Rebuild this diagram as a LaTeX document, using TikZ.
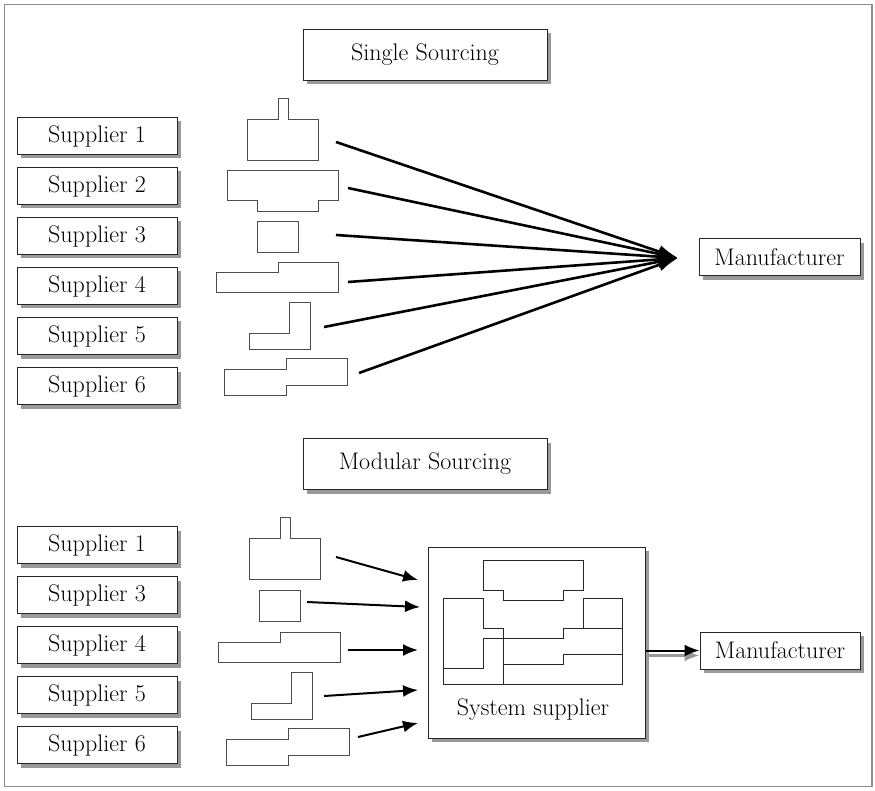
\documentclass[tikz,border=0pt]{standalone}
\usepackage{tikz}
\usetikzlibrary{arrows.meta}
\usetikzlibrary{positioning}
\usetikzlibrary{shadows}

\tikzset{
	part/.style={draw=black!70, line width=0.9pt},
	pics/peg part/.style={code={
		\draw[part] (0,62) -- (0,21) -- (31,21) -- (31,0) -- (41,0) -- (41,21) -- (71,21) -- (71,62) -- cycle;}},
	pics/notch part/.style={code={
		\draw[part] (0,0) -- (111,0) -- (111,30) -- (91,30) -- (91,41) -- (30,41) -- (30,30) -- (0,30) -- cycle;}},
	pics/block part/.style={code={
		\draw[part] (0,0) rectangle (41,31);}},
	pics/step part/.style={code={
		\draw[part] (0,10) -- (62,10) -- (62,0) -- (122,0) -- (122,30) -- (0,30) -- cycle;}},
	pics/ell part/.style={code={
		\draw[part] (0,31) -- (40,31) -- (40,0) -- (61,0) -- (61,47) -- (0,47) -- cycle;}},
	pics/zed part/.style={code={
		\draw[part] (0,11) -- (62,11) -- (62,0) -- (123,0) -- (123,27) -- (62,27) -- (62,37) -- (0,37) -- cycle;}}
}

\begin{document}
\begin{tikzpicture}[
		x=1pt,
		y=-1pt,
		font=\fontsize{24}{28}\selectfont,
		box/.style={
			draw=black!85,
			fill=white,
			line width=1pt,
			inner sep=0pt,
			drop shadow={shadow xshift=4pt, shadow yshift=-4pt, fill=black!40, opacity=1}
		},
		supplier node/.style={box, minimum width=160pt, minimum height=37pt},
		title node/.style={box, minimum width=244pt, minimum height=51pt},
		feed/.style={-{Latex[length=20pt,width=13pt]}, line width=2.6pt},
		deliver/.style={-{Latex[length=15pt,width=12pt]}, line width=2pt}
		]
		
		\useasboundingbox (0,0) rectangle (875,791);
		\draw[black!45, line width=1.5pt] (4.5,4.5) rectangle (872,786.5);
		
		% single sourcing
		\node[title node] (single) at (425,55) {Single Sourcing};
		\node[supplier node] (s1) at (97,136) {Supplier 1};
		\node[supplier node] (s2) [below=12pt of s1] {Supplier 2};
		\node[supplier node] (s3) [below=12pt of s2] {Supplier 3};
		\node[supplier node] (s4) [below=12pt of s3] {Supplier 4};
		\node[supplier node] (s5) [below=12pt of s4] {Supplier 5};
		\node[supplier node] (s6) [below=12pt of s5] {Supplier 6};
		\node[box, minimum width=161pt, minimum height=37pt] (man1) at (779.5,257.5) {Manufacturer};
		
		\pic at (247,98) {peg part};
		\pic at (227,170) {notch part};
		\pic at (257,221) {block part};
		\pic at (216,262) {step part};
		\pic at (249,302) {ell part};
		\pic at (224,358) {zed part};
		
		\coordinate (hub) at (678,258);
		\coordinate (a1) at (336,142);
		\coordinate (a2) at (348,188);
		\coordinate (a3) at (336,235);
		\coordinate (a4) at (348,282);
		\coordinate (a5) at (324,327);
		\coordinate (a6) at (359,373);
		\foreach \i in {1,...,6}
			\draw[feed] (a\i) -- (hub);
		
		% modular sourcing
		\node[title node] (modular) at (425,464) {Modular Sourcing};
		\node[supplier node] (m1) at (97,545) {Supplier 1};
		\node[supplier node] (m3) [below=12pt of m1] {Supplier 3};
		\node[supplier node] (m4) [below=12pt of m3] {Supplier 4};
		\node[supplier node] (m5) [below=12pt of m4] {Supplier 5};
		\node[supplier node] (m6) [below=12pt of m5] {Supplier 6};
		\node[box, minimum width=217pt, minimum height=191pt] (sys) at (536.5,642.5) {};
		\node (syslabel) at (533,710) {System supplier};
		\node[box, minimum width=160pt, minimum height=37pt] (man2) at (780,650.5) {Manufacturer};
		
		\pic at (249,517) {peg part};
		\pic at (259,590) {block part};
		\pic at (218,632) {step part};
		\pic at (251,672) {ell part};
		\pic at (226,728) {zed part};
		
		% parts put together
		\draw[part, draw=black!85] (483,560) -- (583,560) -- (583,590) -- (563,590) -- (563,600) -- (503,600) -- (503,590) -- (483,590) -- cycle;
		\draw[part, draw=black!85] (443,598) -- (483,598) -- (483,628) -- (503,628) -- (503,684);
		\draw[part, draw=black!85] (443,598) -- (443,684) -- (622,684) -- (622,598) -- (583,598) -- (583,628);
		\draw[part, draw=black!85] (443,668) -- (483,668) -- (483,638) -- (563,638) -- (563,628) -- (622,628);
		\draw[part, draw=black!85] (503,664) -- (563,664) -- (563,654) -- (622,654);
		
		\coordinate (b1) at (336,557);
		\coordinate (b3) at (307,602);
		\coordinate (b4) at (348,650);
		\coordinate (b5) at (324,696);
		\coordinate (b6) at (358,737);
		\coordinate (c1) at (418,580);
		\coordinate (c3) at (420,607);
		\coordinate (c4) at (418,650);
		\coordinate (c5) at (418,690);
		\coordinate (c6) at (418,723);
		\foreach \i in {1,3,4,5,6}
			\draw[deliver] (b\i) -- (c\i);
		
		\draw[deliver, black!40, line width=2.4pt, transform canvas={yshift=-5pt}] (sys.east |- man2) -- (man2);
		\draw[deliver] (sys.east |- man2) -- (man2);
	\end{tikzpicture}
\end{document}
